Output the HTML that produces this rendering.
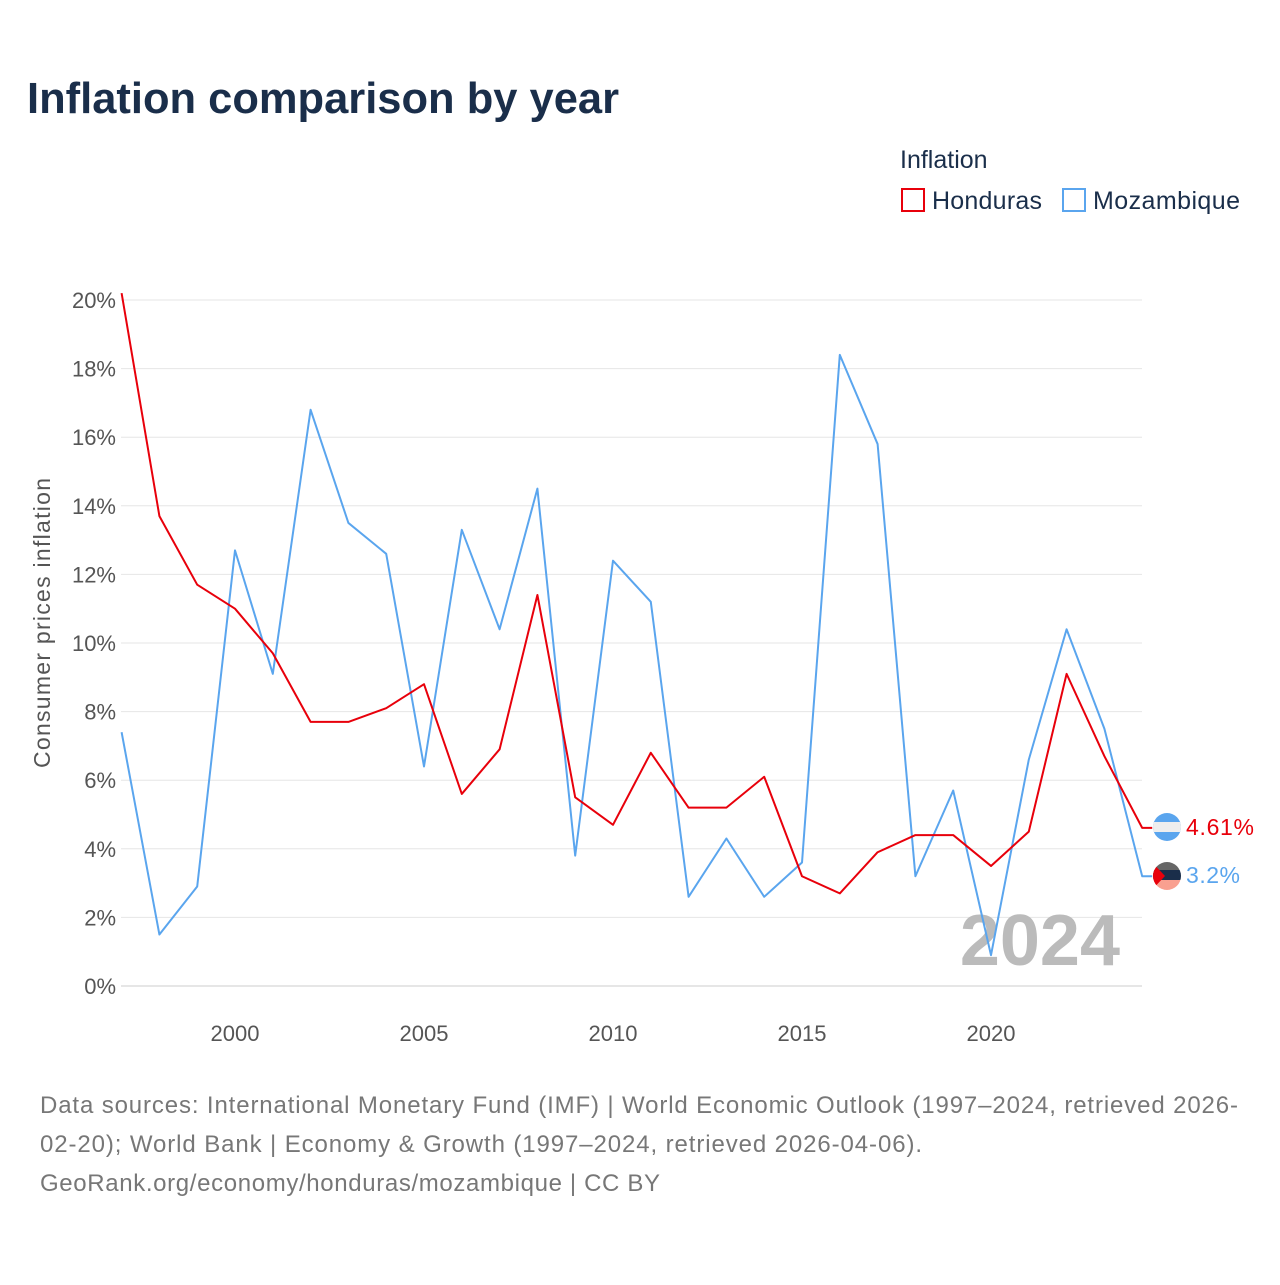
<!DOCTYPE html>
<html><head><meta charset="utf-8"><style>
body{margin:0;background:#fff;font-family:"Liberation Sans",sans-serif;}
</style></head><body>
<svg width="1280" height="1280" xmlns="http://www.w3.org/2000/svg" id="chart" font-family="Liberation Sans, sans-serif">
<rect width="1280" height="1280" fill="#fff"/>
<text x="27" y="113" font-size="44" font-weight="bold" fill="#1a2e4a" textLength="592" lengthAdjust="spacingAndGlyphs">Inflation comparison by year</text>
<text x="900" y="168" font-size="25" fill="#1a2e4a">Inflation</text>
<g><rect x="902" y="189" width="22" height="22" fill="none" stroke="#e8000b" stroke-width="2"/><text x="932" y="209" font-size="25" fill="#1a2e4a" textLength="110">Honduras</text></g>
<g><rect x="1063" y="189" width="22" height="22" fill="none" stroke="#5aa5ee" stroke-width="2"/><text x="1093" y="209" font-size="25" fill="#1a2e4a" textLength="147">Mozambique</text></g>
<g id="grid"></g>
<g id="yt"></g>
<g id="xt"></g>
<text transform="translate(50,623) rotate(-90)" text-anchor="middle" font-size="23" fill="#555" textLength="290">Consumer prices inflation</text>
<text x="1120" y="965" text-anchor="end" font-size="72" font-weight="bold" fill="#bbb">2024</text>
<g id="series"></g>
<g><clipPath id="c1"><circle cx="1167" cy="827" r="14"/></clipPath><g clip-path="url(#c1)"><rect x="1150" y="810" width="34" height="34" fill="#5aa5ee"/><rect x="1150" y="822" width="34" height="10" fill="#eee"/></g></g>
<g><clipPath id="c2"><circle cx="1167" cy="876" r="14"/></clipPath><g clip-path="url(#c2)"><rect x="1150" y="860" width="34" height="10" fill="#666"/><rect x="1150" y="870" width="34" height="10" fill="#1a2e4a"/><rect x="1150" y="880" width="34" height="12" fill="#f9a090"/><polygon points="1150,860 1165,876 1150,892" fill="#e8000b"/></g></g>
<text x="1186" y="835" font-size="23" fill="#e8000b" textLength="68">4.61%</text>
<text x="1186" y="883" font-size="23" fill="#5aa5ee" textLength="54">3.2%</text>
<g font-size="24" fill="#777">
<text x="40" y="1113" textLength="1198">Data sources: International Monetary Fund (IMF) | World Economic Outlook (1997–2024, retrieved 2026-</text>
<text x="40" y="1152" textLength="882">02-20); World Bank | Economy &amp; Growth (1997–2024, retrieved 2026-04-06).</text>
<text x="40" y="1191" textLength="620">GeoRank.org/economy/honduras/mozambique | CC BY</text>
</g>
</svg>
<script>
const years=[1997,1998,1999,2000,2001,2002,2003,2004,2005,2006,2007,2008,2009,2010,2011,2012,2013,2014,2015,2016,2017,2018,2019,2020,2021,2022,2023,2024];
const honduras=[20.2,13.7,11.7,11.0,9.7,7.7,7.7,8.1,8.8,5.6,6.9,11.4,5.5,4.7,6.8,5.2,5.2,6.1,3.2,2.7,3.9,4.4,4.4,3.5,4.5,9.1,6.7,4.61];
const mozambique=[7.4,1.5,2.9,12.7,9.1,16.8,13.5,12.6,6.4,13.3,10.4,14.5,3.8,12.4,11.2,2.6,4.3,2.6,3.6,18.4,15.8,3.2,5.7,0.9,6.6,10.4,7.5,3.2];
const yTicks=[0,2,4,6,8,10,12,14,16,18,20];
const xTicks=[2000,2005,2010,2015,2020];
const NS='http://www.w3.org/2000/svg';
const X=v=>121.6+(v-1997)*37.8, Y=v=>986-v*34.3;
function mk(t,a,p){const e=document.createElementNS(NS,t);for(const k in a)e.setAttribute(k,a[k]);document.getElementById(p).appendChild(e);return e;}
yTicks.forEach(t=>{
 const l=mk('line',{x1:121,x2:1142,y1:Y(t),y2:Y(t),stroke:t===0?'#ccc':'#e6e6e6','stroke-width':1},'grid');
 
 
 const tx=mk('text',{x:116,y:Y(t)+8,'text-anchor':'end','font-size':22,fill:'#555'},'yt');
 tx.textContent=t+'%';
 
 
});
xTicks.forEach(t=>{
 const tx=mk('text',{x:X(t),y:1041,'text-anchor':'middle','font-size':22,fill:'#555'},'xt');
 tx.textContent=t;
 
 
});
function line(d,c,n){
 let pts=d.map((v,i)=>X(years[i])+','+Y(v));
 pts.push((X(years[years.length-1])+10)+','+Y(d[d.length-1]));
 const p=mk('polyline',{points:pts.join(' '),fill:'none',stroke:c,'stroke-width':2,'stroke-linejoin':'round'},'series');
 
 
}
line(mozambique,'#5aa5ee','line-mozambique');
line(honduras,'#e8000b','line-honduras');
</script>
</body></html>
